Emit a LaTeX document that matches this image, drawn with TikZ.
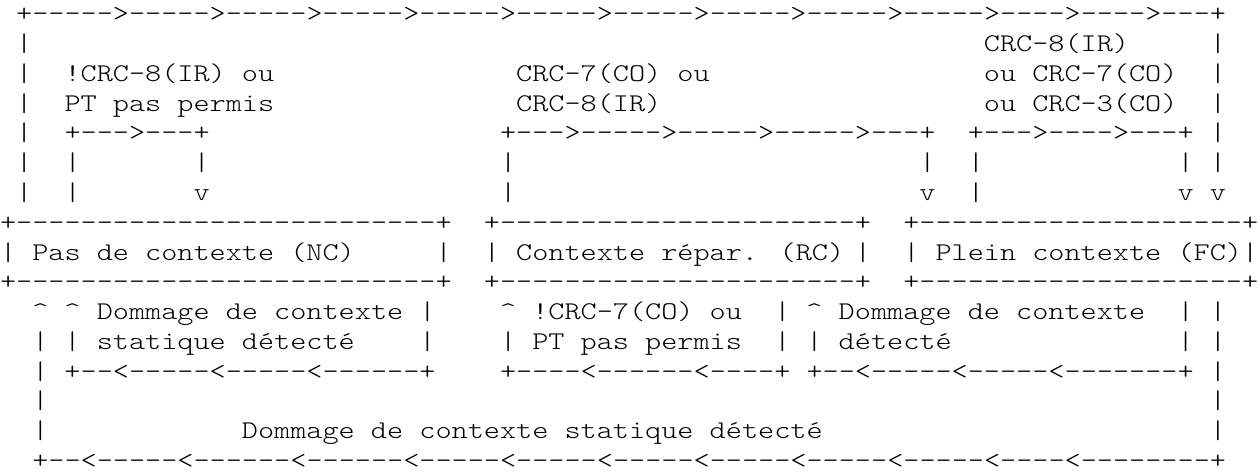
\documentclass[tikz,border=0pt]{standalone}
\usepackage{fontspec}
\newfontfamily\asc{lmmonolt10-regular.otf}[FakeStretch=1.205]
\tikzset{cell/.style={anchor=base west, inner sep=0pt, outer sep=0pt,
  font=\asc\fontsize{25.5pt}{29.75pt}\selectfont, text=black}}
% #1 name, #2 row, #3 column, #4 text
\newcommand\seg[4]{\node[cell] (#1) at ({#3*16.13pt},{-22pt-#2*29.75pt}) {#4};}
\newcommand\ca{\textasciicircum}
\begin{document}
\begin{tikzpicture}
\fill[white] (0pt,0pt) rectangle (1258pt,-476pt);
\useasboundingbox (0pt,0pt) rectangle (1258pt,-476pt);
% row 0
\seg{t0}{0}{1}{+----->----->----->----->----->----->----->----->----->----->---->---->---+}
% row 1
\seg{t1a}{1}{1}{|}\seg{t1b}{1}{61}{CRC-8(IR)}\seg{t1c}{1}{75}{|}
% row 2
\seg{t2a}{2}{1}{|}\seg{t2b}{2}{4}{!CRC-8(IR) ou}\seg{t2c}{2}{32}{CRC-7(CO) ou}
\seg{t2d}{2}{61}{ou CRC-7(CO)}\seg{t2e}{2}{75}{|}
% row 3
\seg{t3a}{3}{1}{|}\seg{t3b}{3}{4}{PT pas permis}\seg{t3c}{3}{32}{CRC-8(IR)}
\seg{t3d}{3}{61}{ou CRC-3(CO)}\seg{t3e}{3}{75}{|}
% row 4
\seg{t4a}{4}{1}{|}\seg{t4b}{4}{4}{+--->---+}\seg{t4c}{4}{31}{+--->----->----->----->---+}
\seg{t4d}{4}{60}{+--->---->---+}\seg{t4e}{4}{75}{|}
% row 5
\seg{t5a}{5}{1}{|}\seg{t5b}{5}{4}{|}\seg{t5c}{5}{12}{|}\seg{t5d}{5}{31}{|}
\seg{t5e}{5}{57}{|}\seg{t5f}{5}{60}{|}\seg{t5g}{5}{73}{|}\seg{t5h}{5}{75}{|}
% row 6
\seg{t6a}{6}{1}{|}\seg{t6b}{6}{4}{|}\seg{t6c}{6}{12}{v}\seg{t6d}{6}{31}{|}
\seg{t6e}{6}{57}{v}\seg{t6f}{6}{60}{|}\seg{t6g}{6}{73}{v}\seg{t6h}{6}{75}{v}
% row 7 : box tops
\seg{t7a}{7}{0}{+--------------------------+}
\seg{t7b}{7}{30}{+----------------------+}
\seg{t7c}{7}{56}{+--------------------+}
% row 8 : box labels
\seg{t8a}{8}{0}{|}\seg{nc}{8}{2}{Pas de contexte (NC)}\seg{t8b}{8}{27}{|}
\seg{t8c}{8}{30}{|}\seg{rc}{8}{32}{Contexte répar. (RC)}\seg{t8d}{8}{53}{|}
\seg{t8e}{8}{56}{|}\seg{fc}{8}{58}{Plein contexte (FC)}\seg{t8f}{8}{77}{|}
% row 9 : box bottoms
\seg{t9a}{9}{0}{+--------------------------+}
\seg{t9b}{9}{30}{+----------------------+}
\seg{t9c}{9}{56}{+--------------------+}
% row 10
\seg{t10a}{10}{2}{\ca{} \ca{} Dommage de contexte}\seg{t10b}{10}{26}{|}
\seg{t10c}{10}{31}{\ca{} !CRC-7(CO) ou}\seg{t10d}{10}{48}{| \ca{} Dommage de contexte}
\seg{t10e}{10}{73}{|}\seg{t10f}{10}{75}{|}
% row 11
\seg{t11a}{11}{2}{| | statique détecté}\seg{t11b}{11}{26}{|}
\seg{t11c}{11}{31}{| PT pas permis}\seg{t11d}{11}{48}{| | détecté}
\seg{t11e}{11}{73}{|}\seg{t11f}{11}{75}{|}
% row 12
\seg{t12a}{12}{2}{| +--<-----<-----<------+}
\seg{t12b}{12}{31}{+----<------<----+ +--<-----<-----<-------+ |}
% row 13
\seg{t13a}{13}{2}{|}\seg{t13b}{13}{75}{|}
% row 14
\seg{t14a}{14}{2}{|}\seg{t14b}{14}{15}{Dommage de contexte statique détecté}\seg{t14c}{14}{75}{|}
% row 15
\seg{t15}{15}{2}{+--<-----<------<------<-----<-----<-----<-----<-----<-----<----<--------+}
\end{tikzpicture}
\end{document}
